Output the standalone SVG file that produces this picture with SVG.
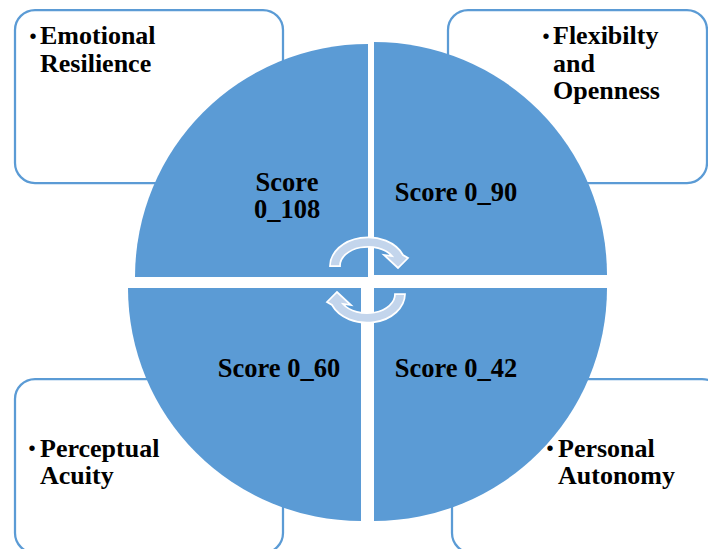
<svg xmlns="http://www.w3.org/2000/svg" width="708" height="549" viewBox="0 0 708 549">
  <defs>
    <style>
      .box { fill: #FFFFFF; stroke: #5B9BD5; stroke-width: 2.25; }
      .quad { fill: #5B9BD5; }
      .serif { font-family: "Liberation Serif", "Times New Roman", serif; }
      .label { font-weight: 700; font-size: 26px; fill: #000000; }
      .score { font-weight: 700; font-size: 26.5px; fill: #000000; text-anchor: middle; }
      .bullet { font-family: "Liberation Sans", Arial, sans-serif; font-size: 20px; fill: #000000; text-anchor: middle; }
      .cycle { fill: #C3D5EC; stroke: #FFFFFF; stroke-width: 1.75; stroke-linejoin: miter; }
    </style>
    <!-- curved arrow running clockwise over the top of the centre -->
    <path id="cycleArrow" d="M330,266 A38,29 0 0 1 403,255 L408,258 L398,268 L384,255 L392,256 A28,19 0 0 0 340,266 Z"/>
  </defs>

  <!-- outer text boxes -->
  <g id="box-emotional" class="serif">
    <rect class="box" x="15" y="10" width="268" height="173" rx="20" ry="20"/>
    <text class="bullet" x="33" y="43">•</text>
    <text class="label" x="40" y="44">Emotional</text>
    <text class="label" x="40" y="72">Resilience</text>
  </g>
  <g id="box-flexibility" class="serif">
    <rect class="box" x="448" y="10" width="259" height="173" rx="20" ry="20"/>
    <text class="bullet" x="546" y="43">•</text>
    <text class="label" x="553" y="44">Flexibilty</text>
    <text class="label" x="553" y="72">and</text>
    <text class="label" x="553" y="99">Openness</text>
  </g>
  <g id="box-perceptual" class="serif">
    <rect class="box" x="15" y="379" width="268" height="174" rx="20" ry="20"/>
    <text class="bullet" x="32" y="455">•</text>
    <text class="label" x="40" y="457">Perceptual</text>
    <text class="label" x="40" y="484">Acuity</text>
  </g>
  <g id="box-autonomy" class="serif">
    <rect class="box" x="452" y="379" width="270" height="174" rx="20" ry="20"/>
    <text class="bullet" x="550" y="455">•</text>
    <text class="label" x="558" y="457">Personal</text>
    <text class="label" x="558" y="484">Autonomy</text>
  </g>

  <!-- circle quadrants -->
  <g id="quad-top-left" class="serif">
    <path class="quad" d="M368,277 L135,277 A233,233 0 0 1 368,44 Z"/>
    <text class="score" x="287" y="191">Score</text>
    <text class="score" x="287" y="218">0_108</text>
  </g>
  <g id="quad-top-right" class="serif">
    <path class="quad" d="M374,275 L374,42 A233,233 0 0 1 607,275 Z"/>
    <text class="score" x="456" y="201">Score 0_90</text>
  </g>
  <g id="quad-bottom-left" class="serif">
    <path class="quad" d="M361,288 L361,521 A233,233 0 0 1 128,288 Z"/>
    <text class="score" x="279" y="377">Score 0_60</text>
  </g>
  <g id="quad-bottom-right" class="serif">
    <path class="quad" d="M374,288 L607,288 A233,233 0 0 1 374,521 Z"/>
    <text class="score" x="456" y="377">Score 0_42</text>
  </g>

  <!-- cycle arrows in the centre -->
  <g id="connectors">
    <use href="#cycleArrow" class="cycle"/>
    <use href="#cycleArrow" class="cycle" transform="rotate(180 367.5 280)"/>
  </g>
</svg>
